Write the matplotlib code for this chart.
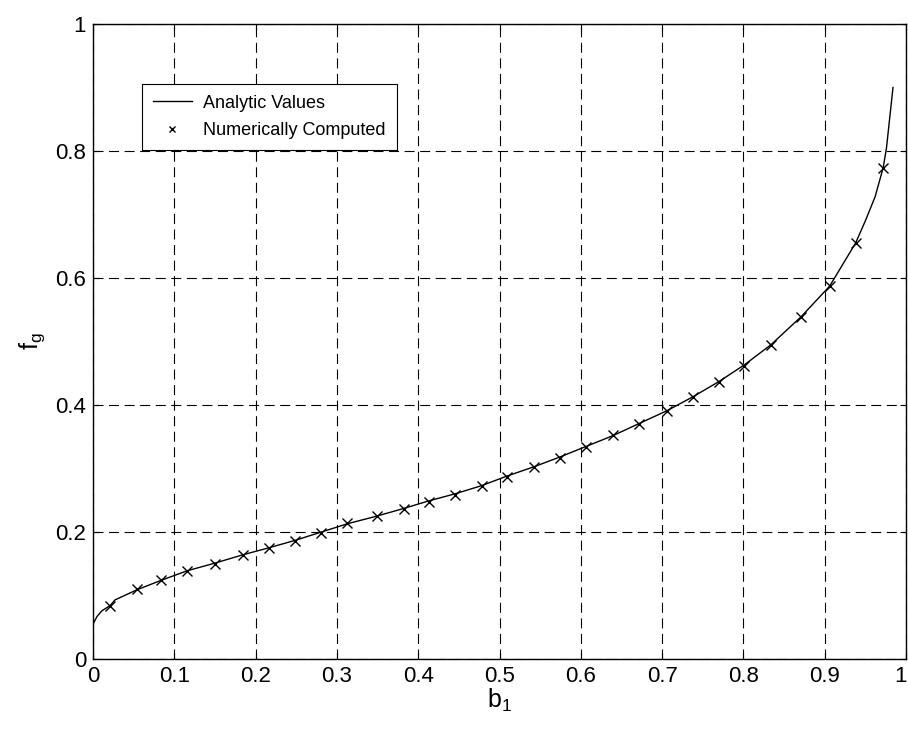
import matplotlib
matplotlib.use("Agg")
import matplotlib.pyplot as plt
import matplotlib.transforms as mtransforms

plt.rcParams["font.family"] = ["Liberation Sans", "DejaVu Sans"]
plt.rcParams["mathtext.fontset"] = "custom"
plt.rcParams["mathtext.rm"] = "Liberation Sans"
plt.rcParams["mathtext.it"] = "Liberation Sans"

# analytic curve (b1 -> fg)
b1_analytic = [0.0, 0.005, 0.011, 0.021, 0.027, 0.054, 0.084, 0.116, 0.150,
               0.184, 0.216, 0.249, 0.281, 0.313, 0.349, 0.382, 0.413, 0.445,
               0.478, 0.509, 0.543, 0.574, 0.607, 0.640, 0.672, 0.706, 0.738,
               0.770, 0.801, 0.834, 0.871, 0.906, 0.938, 0.950, 0.962, 0.972,
               0.976, 0.984]
fg_analytic = [0.055, 0.067, 0.076, 0.084, 0.093, 0.109, 0.124, 0.139, 0.151,
               0.164, 0.175, 0.187, 0.200, 0.213, 0.225, 0.237, 0.249, 0.260,
               0.273, 0.288, 0.303, 0.318, 0.335, 0.352, 0.371, 0.391, 0.413,
               0.437, 0.463, 0.495, 0.539, 0.587, 0.655, 0.690, 0.728, 0.774,
               0.805, 0.900]

# numerically computed points
b1_numeric = [0.021, 0.054, 0.084, 0.116, 0.150, 0.184, 0.216, 0.249, 0.281,
              0.313, 0.349, 0.382, 0.413, 0.445, 0.478, 0.509, 0.543, 0.574,
              0.607, 0.640, 0.672, 0.706, 0.738, 0.770, 0.801, 0.834, 0.871,
              0.906, 0.938, 0.972]
fg_numeric = [0.083, 0.110, 0.124, 0.139, 0.150, 0.164, 0.175, 0.186, 0.199,
              0.214, 0.225, 0.236, 0.248, 0.259, 0.273, 0.287, 0.303, 0.317,
              0.334, 0.352, 0.370, 0.390, 0.413, 0.436, 0.462, 0.494, 0.539,
              0.587, 0.655, 0.774]

xticks = [0, 0.1, 0.2, 0.3, 0.4, 0.5, 0.6, 0.7, 0.8, 0.9, 1]
xticklabels = ["0", "0.1", "0.2", "0.3", "0.4", "0.5", "0.6", "0.7", "0.8", "0.9", "1"]
yticks = [0, 0.2, 0.4, 0.6, 0.8, 1]
yticklabels = ["0", "0.2", "0.4", "0.6", "0.8", "1"]

fig = plt.figure(figsize=(9.08, 7.35), dpi=100)
ax = fig.add_axes([93 / 908, 76 / 735, 813 / 908, 635 / 735])

ax.plot(b1_analytic, fg_analytic, color="black", linewidth=1.0,
        label="Analytic Values")
ax.plot(b1_numeric, fg_numeric, linestyle="none", marker="x", color="black",
        markersize=7, markeredgewidth=1.0, label="Numerically Computed")

ax.set_xlim(0, 1)
ax.set_ylim(0, 1)
ax.set_xticks(xticks)
ax.set_xticklabels(xticklabels)
ax.set_yticks(yticks)
ax.set_yticklabels(yticklabels)
ax.tick_params(direction="in", length=4, width=0.8, labelsize=16,
               top=True, right=True, pad=5)

# last x label sits against the figure edge, nudge it left a little
last = ax.get_xticklabels()[-1]
last.set_transform(last.get_transform() +
                   mtransforms.ScaledTranslation(-5 / 100, 0, fig.dpi_scale_trans))

ax.grid(True, color="black", linestyle=(0, (9, 5)), linewidth=0.8)
for sp in ax.spines.values():
    sp.set_linewidth(1.0)
    sp.set_color("black")

ax.set_xlabel(r"$\mathregular{b_1}$", fontsize=18, labelpad=0)
ax.set_ylabel(r"$\mathregular{f_g}$", fontsize=18, labelpad=6)

leg = ax.legend(loc="upper left", bbox_to_anchor=(0.060, 0.906),
                fontsize=13, frameon=True, fancybox=False, borderaxespad=0,
                handlelength=2.2, handletextpad=0.6, borderpad=0.6,
                labelspacing=0.6, markerscale=0.7)
leg.get_frame().set_edgecolor("black")
leg.get_frame().set_linewidth(0.8)
leg.get_frame().set_alpha(1)

fig.savefig("out.png", dpi=100)
